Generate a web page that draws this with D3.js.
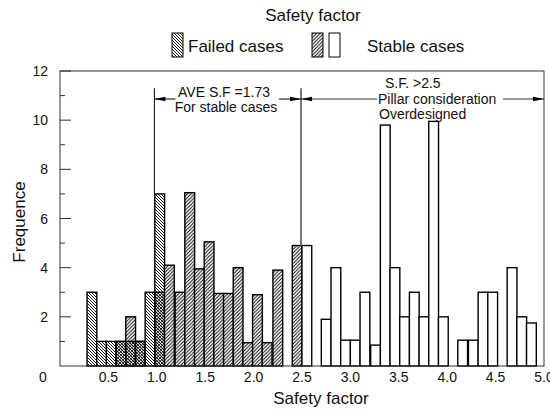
<!DOCTYPE html>
<html>
<head>
<meta charset="utf-8">
<script src="https://cdn.jsdelivr.net/npm/d3@7"></script>
<style>
  html, body { margin: 0; padding: 0; background: #fff; }
  svg { display: block; font-family: "Liberation Sans", Arial, sans-serif; }
</style>
</head>
<body>
<svg id="chart" width="550" height="411"></svg>
<script>
// ---------------- data ----------------
const binCenters = [0.33,0.43,0.53,0.63,0.73,0.83,0.93,1.03,1.13,1.24,1.34,1.44,1.54,1.64,1.74,1.84,1.94,2.04,2.14,2.25,2.45,
                    2.55,2.75,2.85,2.95,3.05,3.15,3.26,3.36,3.46,3.56,3.66,3.76,3.86,3.96,4.16,4.27,4.37,4.47,4.67,4.77,4.87];
const failedCounts = [3,1,1,1,1,1,3,7,0,0,0,0,0,0,0,0,0,0,0,0,0,
                      0,0,0,0,0,0,0,0,0,0,0,0,0,0,0,0,0,0,0,0,0];
const stableCounts = [0,0,0,1,2,1,0,3,4.1,3,7.05,3.95,5.05,2.95,2.95,4,0.95,2.9,0.95,3.9,4.9,
                      4.9,1.9,4,1.05,1.05,3,0.85,9.8,4,2,3,2,9.95,2,1.05,1.05,3,3,4,2,1.75];
const binWidth = 0.101;
const hatchLimit = 2.5;               // stable bins below this are hatched, above are white
const xTicks = [0.5,1.0,1.5,2.0,2.5,3.0,3.5,4.0,4.5,5.0];
const yTicks = [2,4,6,8,10,12];
const yMinorTicks = [1,3,5,7,9,11];
const annotation = { aveX: 0.975, limitX: 2.49, topY: 11.3, arrowY: 10.86, aveBarTop: 7, limitBarTop: 4.9 };

// ---------------- scales ----------------
const svg = d3.select("#chart");
const x = d3.scaleLinear().domain([0, 5]).range([60, 544]);
const y = d3.scaleLinear().domain([0, 12]).range([366, 71]);

// patterns
const defs = svg.append("defs");
const pf = defs.append("pattern").attr("id", "failedPat").attr("patternUnits", "userSpaceOnUse")
  .attr("width", 3).attr("height", 3);
pf.append("path").attr("d", "M-1,-1 L4,4 M-1,2 L1,4 M2,-1 L4,1").attr("stroke", "#000").attr("stroke-width", 0.9);
const ps = defs.append("pattern").attr("id", "stablePat").attr("patternUnits", "userSpaceOnUse")
  .attr("width", 3.5).attr("height", 3.5);
ps.append("path").attr("d", "M-1,4.5 L4.5,-1 M-1,1 L1,-1 M2.5,4.5 L4.5,2.5").attr("stroke", "#000").attr("stroke-width", 0.9);

// ---------------- bars ----------------
const bins = binCenters.map((c, i) => ({ c, f: failedCounts[i], s: stableCounts[i] }));
const gBars = svg.append("g");
bins.forEach(b => {
  const x0 = x(b.c - binWidth / 2), x1 = x(b.c + binWidth / 2);
  const top = Math.max(b.f, b.s);
  if (top <= 0) return;
  gBars.append("rect").attr("x", x0).attr("width", x1 - x0)
    .attr("y", y(top)).attr("height", y(0) - y(top)).attr("fill", "#fff");
  if (b.f > 0) gBars.append("rect").attr("x", x0).attr("width", x1 - x0)
    .attr("y", y(b.f)).attr("height", y(0) - y(b.f)).attr("fill", "url(#failedPat)");
  if (b.s > 0 && b.c < hatchLimit) gBars.append("rect").attr("x", x0).attr("width", x1 - x0)
    .attr("y", y(b.s)).attr("height", y(0) - y(b.s)).attr("fill", "url(#stablePat)");
  [b.f, b.s].filter(v => v > 0).forEach(v => {
    gBars.append("rect").attr("x", x0).attr("width", x1 - x0)
      .attr("y", y(v)).attr("height", y(0) - y(v))
      .attr("fill", "none").attr("stroke", "#000").attr("stroke-width", 1.4);
  });
});

// ---------------- frame & axes ----------------
svg.append("rect").attr("x", x(0)).attr("y", y(12)).attr("width", x(5) - x(0)).attr("height", y(0) - y(12))
  .attr("fill", "none").attr("stroke", "#333").attr("stroke-width", 1);

svg.append("g").selectAll("line.maj").data(yTicks).join("line")
  .attr("x1", x(0)).attr("x2", x(0) + 11).attr("y1", d => y(d)).attr("y2", d => y(d))
  .attr("stroke", "#333").attr("stroke-width", 1);
svg.append("g").selectAll("line.min").data(yMinorTicks).join("line")
  .attr("x1", x(0)).attr("x2", x(0) + 5).attr("y1", d => y(d)).attr("y2", d => y(d))
  .attr("stroke", "#333").attr("stroke-width", 1);

svg.append("g").selectAll("text").data(yTicks).join("text")
  .attr("x", x(0) - 12).attr("y", d => y(d) + 5).attr("text-anchor", "end")
  .attr("font-size", 14).attr("fill", "#111").text(d => d);
svg.append("text").attr("x", x(0) - 17).attr("y", y(0) + 16).attr("text-anchor", "middle")
  .attr("font-size", 14).attr("fill", "#111").text("0");

svg.append("g").selectAll("text").data(xTicks).join("text")
  .attr("x", d => x(d)).attr("y", y(0) + 16).attr("text-anchor", "middle")
  .attr("font-size", 14).attr("fill", "#111").text(d => d.toFixed(1));

svg.append("text").attr("x", (x(0) + x(5)) / 2 + 19).attr("y", 404).attr("text-anchor", "middle")
  .attr("font-size", 17).attr("fill", "#111").text("Safety factor");
svg.append("text").attr("transform", "translate(25,222) rotate(-90)").attr("text-anchor", "middle")
  .attr("font-size", 17).attr("fill", "#111").text("Frequence");

// ---------------- title & legend ----------------
svg.append("text").attr("x", 313).attr("y", 21).attr("text-anchor", "middle")
  .attr("font-size", 17).attr("fill", "#111").text("Safety factor");
svg.append("rect").attr("x", 172).attr("y", 33).attr("width", 11).attr("height", 24)
  .attr("fill", "url(#failedPat)").attr("stroke", "#000").attr("stroke-width", 1);
svg.append("text").attr("x", 188).attr("y", 52).attr("font-size", 17).attr("fill", "#111").text("Failed cases");
svg.append("rect").attr("x", 312).attr("y", 33).attr("width", 11).attr("height", 24)
  .attr("fill", "url(#stablePat)").attr("stroke", "#000").attr("stroke-width", 1);
svg.append("rect").attr("x", 329).attr("y", 33).attr("width", 11).attr("height", 24)
  .attr("fill", "#fff").attr("stroke", "#000").attr("stroke-width", 1);
svg.append("text").attr("x", 367).attr("y", 52).attr("font-size", 17).attr("fill", "#111").text("Stable cases");

// ---------------- annotations ----------------
const ga = svg.append("g");
const ax = x(annotation.aveX), lx = x(annotation.limitX), ex = x(5), ay = y(annotation.arrowY);
ga.append("line").attr("x1", ax).attr("x2", ax).attr("y1", y(annotation.topY)).attr("y2", y(annotation.aveBarTop))
  .attr("stroke", "#000").attr("stroke-width", 1);
ga.append("line").attr("x1", lx).attr("x2", lx).attr("y1", y(annotation.topY)).attr("y2", y(annotation.limitBarTop))
  .attr("stroke", "#777").attr("stroke-width", 2);
function hline(xa, xb, col) {
  ga.append("line").attr("x1", xa).attr("x2", xb).attr("y1", ay).attr("y2", ay).attr("stroke", col).attr("stroke-width", 1);
}
hline(ax, ax + 21, "#000"); hline(lx - 22, lx, "#000");
hline(lx, lx + 76, "#333"); hline(ex - 41, ex, "#333");
function head(xt, dir) {
  ga.append("path").attr("d", `M${xt},${ay} L${xt + dir * 11},${ay - 2.2} L${xt + dir * 11},${ay + 2.2} Z`).attr("fill", "#000");
}
head(ax, 1); head(lx, -1); head(lx, 1); head(ex, -1);

ga.append("text").attr("x", 224).attr("y", 96.5).attr("text-anchor", "middle").attr("font-size", 14).attr("fill", "#111").text("AVE S.F =1.73");
ga.append("text").attr("x", 226).attr("y", 112).attr("text-anchor", "middle").attr("font-size", 14).attr("fill", "#111").text("For stable cases");
ga.append("text").attr("x", 385).attr("y", 88).attr("font-size", 14).attr("fill", "#111").text("S.F. >2.5");
ga.append("text").attr("x", 378).attr("y", 104).attr("font-size", 14).attr("fill", "#111").text("Pillar consideration");
ga.append("text").attr("x", 379).attr("y", 119).attr("font-size", 14).attr("fill", "#111").text("Overdesigned");
</script>
</body>
</html>
